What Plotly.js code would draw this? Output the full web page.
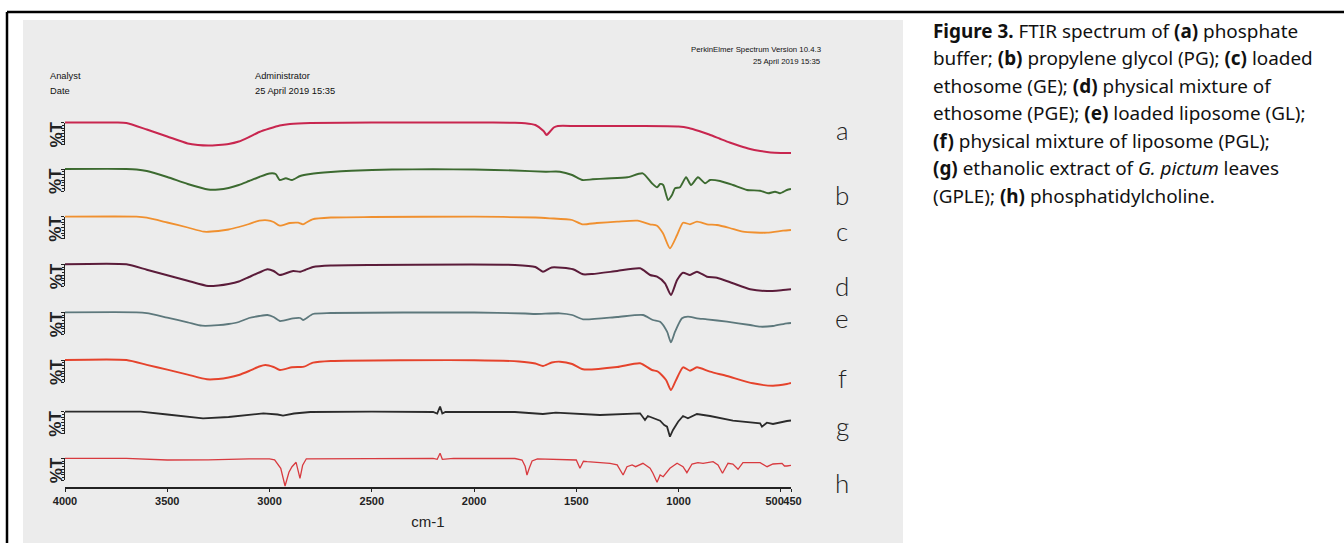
<!DOCTYPE html>
<html>
<head>
<meta charset="utf-8">
<script src="https://cdn.plot.ly/plotly-3.0.1.min.js"></script>
<style>html,body{margin:0;padding:0;background:#fff;}#chart{width:1344px;height:543px;}</style>
</head>
<body>
<div id="chart"></div>
<script>
// ---------------- DATA (wavenumber in cm-1, transmittance in arbitrary %T units) ----------------
const wnA = [4000,3750,3700,3600,3500,3400,3350,3300,3250,3200,3150,3100,3050,3000,2950,2900,2800,2500,2000,1800,1750,1700,1660,1645,1630,1610,1590,1500,1200,1000,950,900,850,800,750,700,650,600,550,500,450];
const tA  = [92,92,91.5,85,78,71,69.5,69,69.5,70.5,73,77.5,82.5,86,89,90.5,91.5,92,92,91.7,91.3,89.5,83.5,79.5,82.5,87,88.5,88.5,88.5,88,86.5,83.5,80,76,72,68.5,65.5,63.5,62,61.5,61.5];

const wnB = [4000,3700,3650,3600,3500,3400,3300,3250,3200,3150,3100,3050,3000,2970,2950,2920,2890,2850,2800,2700,2600,2400,2200,2000,1800,1650,1580,1520,1470,1420,1350,1250,1175,1130,1105,1090,1075,1051,1032,1017,993,963,939,905,870,846,797,734,665,601,562,528,504,470,450];
const tB  = [92,92,91.5,90,84,77,71.5,71.5,73,76,80,84,87.5,87,81,82.7,81,85,87,89,90.3,91.5,91.7,91.5,90.5,89.3,89.3,86,81,81.7,82.5,83.7,87.7,77.7,73.7,77,76,61,66,72.7,73.7,83.7,76,83.7,77.7,81,80,76,71,70.3,67.7,69.3,67.7,71,72];

const wnC = [4000,3650,3600,3500,3400,3320,3250,3200,3150,3100,3050,3010,2980,2950,2900,2860,2836,2790,2700,2500,2000,1700,1630,1520,1470,1400,1300,1200,1140,1105,1076,1042,1007,978,944,910,861,812,750,685,567,489,450];
const tC  = [92,92,91,86.2,81.2,77,77.7,79.2,81.7,84.7,88,88.4,86.7,83,85.7,86,84.4,89.4,91.2,91.7,92,91.2,90.4,88.7,84.4,85.7,87,88,84.4,83,75.4,60.4,73.7,86,84.4,87,84.4,83.7,80.7,77,76,78,78.7];

const wnD = [4000,3700,3600,3500,3400,3300,3250,3200,3150,3100,3050,3010,2980,2950,2885,2850,2826,2787,2700,2500,1800,1700,1663,1620,1516,1467,1420,1300,1188,1139,1105,1066,1037,1007,978,944,910,861,812,734,650,567,489,450];
const tD  = [92,92,86.6,81.1,75.6,70.3,70.8,72.3,74.8,79.3,83.8,87,85.3,81.3,85.3,84.6,86.3,89.3,90.8,91.3,91.3,89.3,84.6,88.8,87,82,82.3,85.3,88,81.3,79.6,73,61.3,76.3,83.6,81.3,84.6,79.6,78.6,73,67,65.3,66.3,67];

const wnE = [4000,3650,3600,3500,3400,3330,3250,3200,3150,3100,3050,3010,2980,2949,2885,2850,2836,2787,2700,2000,1750,1700,1580,1520,1467,1300,1174,1125,1090,1056,1037,1017,983,954,910,861,763,650,601,538,470,450];
const tE  = [92,92,91.1,86.6,82,78.6,79.1,80.3,82.3,86.3,88.3,89.3,87.3,83.3,86,86.3,84.3,90.3,91.3,91.8,90.8,90.3,91,89.3,85,87.3,89.3,84.3,82.6,72.6,62,72.6,86,87.6,86,85,82.6,79.3,77.6,78.3,81,81.3];

const wnF = [4000,3700,3600,3500,3400,3306,3250,3200,3150,3100,3050,3020,2980,2949,2890,2850,2831,2787,2700,2000,1780,1700,1663,1620,1579,1520,1467,1300,1188,1130,1100,1061,1037,1012,978,944,910,846,763,636,538,470,450];
const tF  = [92,92,87.2,82.3,77.4,72.7,73,74.5,77,81,85.5,87,85,82,84.7,85,85.3,89.3,91,91.8,90.5,88.5,86,89.5,90.3,88,82.7,85,88.7,82,80.3,72,62,72,84.7,81.3,84.7,80.3,76,68.7,66.3,68,69];

const wnG = [4000,3800,3630,3500,3400,3325,3200,3100,3030,2960,2934,2880,2800,2500,2200,2180,2166,2155,2140,1800,1663,1600,1384,1188,1164,1150,1115,1090,1070,1056,1042,1027,1002,978,954,910,846,734,601,592,568,538,470,450];
const tG  = [92,91.8,92,89.2,86.9,85.4,86.7,89.2,90.4,89.2,88,90.2,91.7,92,91.7,90.2,97.2,90.2,91.7,91.7,89.7,91,88.7,90.4,83.7,87.7,85.4,83,78.7,77,67,73.7,82,87.7,85.4,89.7,87.7,83,80.4,77,81,79.7,82.7,83.2];

const wnH = [4000,3700,3500,3300,3100,3000,2975,2963,2945,2924,2905,2890,2870,2851,2838,2820,2500,2200,2180,2166,2155,2100,1800,1765,1750,1741,1730,1716,1690,1500,1482,1465,1447,1400,1335,1300,1286,1271,1252,1227,1210,1174,1139,1125,1105,1090,1075,1042,1007,978,959,934,905,880,831,807,785,758,734,709,685,601,567,538,494,482,470,450];
const tH  = [92,92,90.3,90.5,91.5,91.5,90.5,87,82,64.3,78,83.6,88,72,85,91.5,92,92,91,97,91,92,91.8,90.3,84,75.3,82,89.3,91.5,90.3,82,89,88.6,88,87,85.5,80.3,75.3,83.6,85.3,83.6,87,82,77,68,75.3,73.6,82,87,83.6,77.6,86.3,87.6,87,88.6,85.3,77,87,86.3,81,87.6,87.6,83.6,86.3,87,84.3,84.3,85];

const seriesLetters = ['a','b','c','d','e','f','g','h'];
const tickVals = [4000,3500,3000,2500,2000,1500,1000,500,450];
const tickText = ['4000','3500','3000','2500','2000','1500','1000','500\u00a0\u00a0\u00a0\u00a0','\u00a0450'];
const xTitle = 'cm-1';
const yLabel = '%T';
const headerLeft = [['Analyst','Administrator'],['Date','25 April 2019 15:35']];
const headerRight = ['PerkinElmer Spectrum Version 10.4.3','25 April 2019 15:35'];
const captionLines = [
  '<b>Figure 3.</b> FTIR spectrum of <b>(a)</b> phosphate',
  'buffer; <b>(b)</b> propylene glycol (PG); <b>(c)</b> loaded',
  'ethosome (GE); <b>(d)</b> physical mixture of',
  'ethosome (PGE); <b>(e)</b> loaded liposome (GL);',
  '<b>(f)</b> physical mixture of liposome (PGL);',
  '<b>(g)</b> ethanolic extract of <i>G. pictum</i> leaves',
  '(GPLE); <b>(h)</b> phosphatidylcholine.'
];

// ---------------- STYLE / LAYOUT GEOMETRY (pixels) ----------------
const W = 1344, H = 543;
const px = v => v / W;
const py = v => 1 - v / H;
const styles = [
  {color:'#c8264f', width:2.0, base:122.5, letterY:131.7, shape:'spline'},
  {color:'#3c6a30', width:1.9, base:169.0, letterY:196.7, shape:'spline'},
  {color:'#f0902f', width:1.8, base:216.7, letterY:233.3, shape:'spline'},
  {color:'#5b1c3a', width:2.0, base:264.3, letterY:287.5, shape:'spline'},
  {color:'#5d787c', width:1.8, base:312.3, letterY:320.0, shape:'spline'},
  {color:'#e5432c', width:1.9, base:360.0, letterY:380.0, shape:'spline'},
  {color:'#2b2b2b', width:1.8, base:411.7, letterY:427.5, shape:'linear'},
  {color:'#d83a3f', width:1.3, base:458.3, letterY:484.5, shape:'linear'}
];
const xs = [wnA,wnB,wnC,wnD,wnE,wnF,wnG,wnH];
const ys = [tA,tB,tC,tD,tE,tF,tG,tH];

const xLeftPx = 65, xRightPx = 791, axisYPx = 487;

const traces = [];
const layout = {
  width: W, height: H,
  margin: {l:0, r:0, t:0, b:0},
  paper_bgcolor: '#ffffff',
  plot_bgcolor: 'rgba(0,0,0,0)',
  showlegend: false,
  hovermode: false,
  xaxis: {
    domain: [px(xLeftPx), px(xRightPx)],
    range: [4000, 450],
    anchor: 'free',
    position: py(axisYPx),
    showline: true, linecolor: '#222', linewidth: 1.5,
    ticks: 'outside', ticklen: 3, tickcolor: '#222', tickwidth: 1,
    tickmode: 'array', tickvals: tickVals, ticktext: tickText, tickangle: 0,
    tickfont: {family: 'Liberation Sans, Arial, sans-serif', size: 11, color: '#222', weight: 'bold'},
    showgrid: false, zeroline: false,
    title: {text: xTitle, font: {family: 'Liberation Sans, Arial, sans-serif', size: 15, color: '#222'}, standoff: 11}
  },
  shapes: [
    {type:'rect', xref:'paper', yref:'paper', x0:px(23), x1:px(903), y0:0, y1:py(20), fillcolor:'#ececec', line:{width:0}, layer:'below'},
    {type:'line', xref:'paper', yref:'paper', x0:px(7), x1:1, y0:py(12), y1:py(12), line:{color:'#000', width:2.5}},
    {type:'line', xref:'paper', yref:'paper', x0:px(7), x1:px(7), y0:py(12), y1:0, line:{color:'#000', width:2.5}}
  ],
  annotations: []
};

styles.forEach((s, i) => {
  const n = i + 1;
  const dataId = n === 1 ? '' : String(n);
  const rulerId = String(n + 8);
  traces.push({
    type: 'scatter', mode: 'lines', x: xs[i], y: ys[i],
    xaxis: 'x', yaxis: 'y' + dataId,
    line: {color: s.color, width: s.width, shape: s.shape, smoothing: 0.6},
    hoverinfo: 'skip'
  });
  // same series registered on the %T ruler axis (draws nothing, only makes the ruler axis render)
  traces.push({
    type: 'scatter', mode: 'none', x: xs[i], y: ys[i],
    xaxis: 'x', yaxis: 'y' + rulerId, hoverinfo: 'skip'
  });
  layout['yaxis' + dataId] = {
    domain: [py(s.base + 42), py(s.base - 8)],
    range: [50, 100], anchor: 'x', visible: false, fixedrange: true
  };
  layout['yaxis' + rulerId] = {
    domain: [py(s.base + 22), py(s.base)],
    range: [0, 100], anchor: 'x',
    showline: true, linecolor: '#222', linewidth: 1.2,
    ticks: 'outside', ticklen: 3, tickwidth: 1, tickcolor: '#222', dtick: 25, tick0: 0,
    minor: {ticks: 'outside', ticklen: 2, dtick: 12.5, tickcolor: '#222', tickwidth: 1},
    showticklabels: false, showgrid: false, zeroline: false
  };
  // %T label
  layout.annotations.push({
    xref: 'paper', yref: 'paper', x: px(56), y: py(s.base + 12),
    text: '<b>' + yLabel + '</b>', textangle: -90, showarrow: false,
    xanchor: 'center', yanchor: 'middle',
    font: {family: 'Liberation Sans, Arial, sans-serif', size: 17, color: '#222'}
  });
  // row letter
  layout.annotations.push({
    xref: 'paper', yref: 'paper', x: px(842), y: py(s.letterY - 2),
    text: seriesLetters[i], showarrow: false, xanchor: 'center', yanchor: 'middle',
    font: {family: 'Lato, sans-serif', size: 26, color: '#222', weight: 300}
  });
});

// header texts
const hdrFont = {family: 'Liberation Sans, Arial, sans-serif', size: 9.3, color: '#111'};
const hdrY = [76.3, 91];
headerLeft.forEach((row, r) => {
  layout.annotations.push({xref:'paper', yref:'paper', x:px(48), y:py(hdrY[r]), text:row[0], showarrow:false, xanchor:'left', yanchor:'middle', font:hdrFont});
  layout.annotations.push({xref:'paper', yref:'paper', x:px(253), y:py(hdrY[r]), text:row[1], showarrow:false, xanchor:'left', yanchor:'middle', font:hdrFont});
});
const hdrRY = [49.5, 61];
headerRight.forEach((t, r) => {
  layout.annotations.push({xref:'paper', yref:'paper', x:px(823), y:py(hdrRY[r]), text:t, showarrow:false, xanchor:'right', yanchor:'middle',
    font:{family:'Liberation Sans, Arial, sans-serif', size:7.8, color:'#111'}});
});

// caption
captionLines.forEach((t, k) => {
  layout.annotations.push({
    xref:'paper', yref:'paper', x:px(931), y:py(30.7 + k * 27.5), text:t, showarrow:false,
    xanchor:'left', yanchor:'middle', align:'left',
    font:{family:'Noto Sans, sans-serif', size:18.9, color:'#111'}
  });
});

Plotly.newPlot('chart', traces, layout, {staticPlot: true, displayModeBar: false});
</script>
</body>
</html>
